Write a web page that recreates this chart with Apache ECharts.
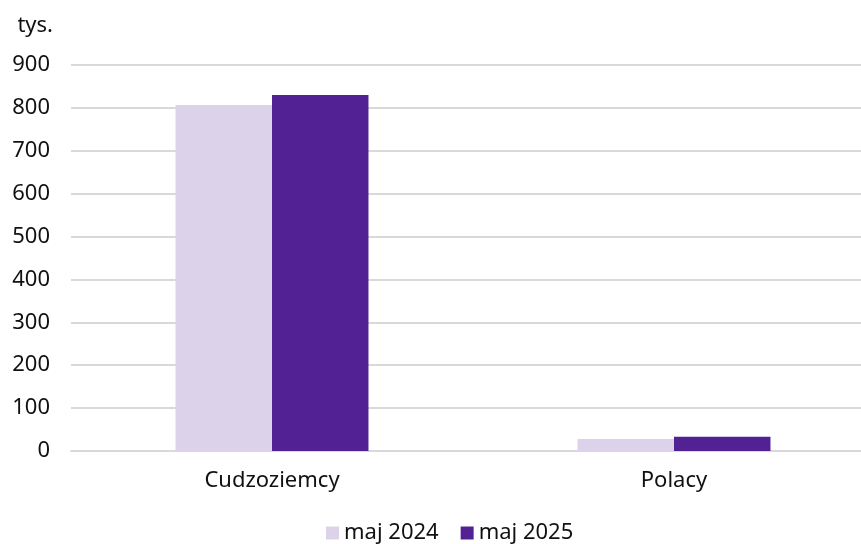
<!DOCTYPE html>
<html>
<head>
<meta charset="utf-8">
<script src="https://cdn.jsdelivr.net/npm/echarts@6/dist/echarts.min.js"></script>
<style>
html,body{margin:0;padding:0;background:#fff;overflow:hidden}
#chart{width:875px;height:544px}
</style>
</head>
<body>
<div id="chart"></div>
<script>
var categories = ['Cudzoziemcy', 'Polacy'];
var seriesNames = ['maj 2024', 'maj 2025'];
var may2024 = [807, 28];
var may2025 = [830, 33];
var colors = ['#dcd3ea', '#522194'];

// plot runs past the right edge of the window, like the original
var myChart = echarts.init(document.getElementById('chart'));
var font = 'Noto Sans';
var option = {
    animation: false,
    color: colors,
    grid: { left: 71, right: 0, top: 65, bottom: 93 },
    legend: {
        bottom: -5,
        left: 321,
        itemWidth: 13,
        itemHeight: 13,
        itemGap: 22,
        icon: 'rect',
        textStyle: { fontFamily: font, fontSize: 22, color: '#111' },
        data: seriesNames
    },
    xAxis: {
        type: 'category',
        data: categories,
        axisLine: { lineStyle: { color: '#d9d9d9', width: 2 } },
        axisTick: { show: false },
        axisLabel: { fontFamily: font, fontSize: 22, color: '#111', margin: 19 }
    },
    yAxis: {
        type: 'value',
        min: 0,
        max: 900,
        interval: 100,
        name: 'tys.',
        nameLocation: 'end',
        nameGap: 28,
        nameTextStyle: { fontFamily: font, fontSize: 22, color: '#111', align: 'right', padding: [0, 18, 0, 0] },
        axisLine: { show: false },
        axisTick: { show: false },
        axisLabel: { fontFamily: font, fontSize: 22, color: '#111', margin: 21 },
        splitLine: { lineStyle: { color: '#d9d9d9', width: 2 } }
    },
    series: [
        { name: seriesNames[0], type: 'bar', data: may2024, barWidth: '24%', barGap: '0%' },
        { name: seriesNames[1], type: 'bar', data: may2025, barWidth: '24%', barGap: '0%' }
    ]
};
myChart.setOption(option);
</script>
</body>
</html>
